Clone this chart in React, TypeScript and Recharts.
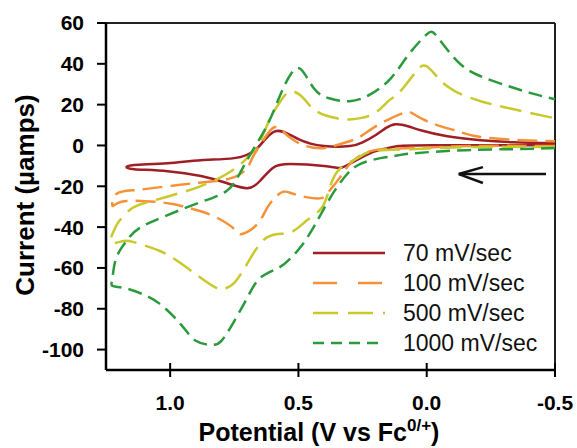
import React from "react"
import { Label, Legend, Line, LineChart, ReferenceLine, XAxis, YAxis } from "recharts"

const FONT = "'Liberation Sans', Arial, sans-serif"

// [potential (V vs Fc), current (uA)] - one closed loop per scan rate
const scan70: [number, number][] = [
    [-0.5, 0.1], [-0.02, 0.1], [0.11, -0.3], [0.17, -1.8], [0.23, -4.3], [0.3, -9.0], [0.34, -11.0],
    [0.4, -10.1], [0.53, -9.1], [0.6, -11.0], [0.65, -17.4], [0.7, -20.9], [0.78, -18.4], [0.88, -15.0],
    [1.01, -12.6], [1.14, -11.6], [1.17, -10.6],
    [1.14, -9.6], [1.01, -8.7], [0.88, -7.2], [0.75, -6.2], [0.66, -1.3], [0.59, 7.0], [0.5, 3.1],
    [0.4, -0.3], [0.3, -0.3], [0.25, 1.5], [0.2, 5.0], [0.16, 8.5], [0.12, 10.4], [0.07, 9.3],
    [0.02, 7.3], [-0.08, 4.5], [-0.21, 2.6], [-0.34, 1.6], [-0.5, 1.1],
]

const scan100: [number, number][] = [
    [-0.5, -0.3], [-0.17, -0.3], [0.06, -1.3], [0.18, -1.8], [0.25, -4.3], [0.3, -9.1], [0.34, -16.0],
    [0.38, -22.4], [0.41, -25.8], [0.47, -25.3], [0.53, -23.3], [0.57, -23.3], [0.62, -30.2], [0.66, -38.5],
    [0.72, -43.4], [0.75, -40.9], [0.83, -34.6], [0.91, -31.2], [0.99, -28.7], [1.08, -27.4], [1.19, -27.6],
    [1.225, -29.5],
    [1.21, -23.8], [1.14, -21.9], [1.07, -20.9], [0.97, -19.4], [0.9, -18.4], [0.83, -17.5], [0.75, -15.5],
    [0.7, -11.1], [0.68, -6.2], [0.64, 2.1], [0.6, 8.5], [0.57, 8.0], [0.53, 3.6], [0.47, -0.3], [0.4, -1.3],
    [0.34, 0.6], [0.27, 3.6], [0.21, 8.5], [0.14, 13.3], [0.08, 16.3], [0.05, 15.3], [-0.02, 10.9],
    [-0.12, 7.0], [-0.21, 4.1], [-0.37, 2.6], [-0.5, 2.1],
]

const scan500: [number, number][] = [
    [-0.5, -0.8], [-0.17, -0.8], [0.06, -1.8], [0.21, -2.8], [0.27, -6.2], [0.34, -11.6], [0.38, -21.4],
    [0.41, -30.7], [0.47, -37.0], [0.52, -41.9], [0.58, -43.4], [0.64, -46.8], [0.7, -58.0], [0.75, -67.3],
    [0.79, -70.3], [0.82, -69.8], [0.88, -64.9], [0.96, -57.6], [1.04, -51.7], [1.13, -47.8], [1.18, -46.8],
    [1.23, -47.5],
    [1.22, -42.0], [1.2, -37.3], [1.15, -30.9], [1.08, -27.5], [0.97, -23.6], [0.88, -19.9], [0.78, -14.0],
    [0.7, -6.2], [0.65, 2.1], [0.61, 13.3], [0.57, 21.7], [0.53, 26.5], [0.48, 23.1], [0.43, 16.8],
    [0.35, 13.3], [0.29, 12.9], [0.21, 15.3], [0.15, 21.7], [0.11, 25.6], [0.05, 34.9], [0.0, 38.8],
    [-0.08, 29.0], [-0.21, 21.7], [-0.34, 17.7], [-0.5, 13.3],
]

const scan1000: [number, number][] = [
    [-0.5, -1.3], [-0.34, -1.8], [-0.15, -2.3], [0.05, -3.8], [0.11, -4.8], [0.18, -6.2], [0.26, -9.1],
    [0.31, -14.0], [0.36, -22.4], [0.41, -33.1], [0.45, -42.0], [0.49, -49.5], [0.53, -55.2], [0.58, -60.1],
    [0.65, -65.0], [0.7, -74.7], [0.75, -86.0], [0.8, -95.7], [0.84, -97.6], [0.9, -95.7], [0.96, -87.4],
    [1.04, -77.6], [1.11, -72.7], [1.18, -69.8], [1.225, -68.8],
    [1.225, -64.9], [1.21, -55.1], [1.17, -46.8], [1.12, -40.5], [1.01, -34.1], [0.88, -27.7], [0.78, -22.3],
    [0.73, -14.0], [0.68, -2.8], [0.62, 10.4], [0.57, 25.0], [0.53, 34.9], [0.49, 37.3], [0.44, 28.0],
    [0.38, 23.1], [0.3, 21.7], [0.22, 25.0], [0.14, 32.9], [0.07, 44.6], [0.0, 54.4], [-0.04, 53.4],
    [-0.12, 41.2], [-0.21, 33.9], [-0.32, 29.0], [-0.41, 25.5], [-0.5, 22.6],
]

const rateLabels = ["70 mV/sec", "100 mV/sec", "500 mV/sec", "1000 mV/sec"]
const xTicks = [1.0, 0.5, 0.0, -0.5]
const yTicks = [-100, -80, -60, -40, -20, 0, 20, 40, 60]

const series = [
    { name: rateLabels[0], points: scan70, color: "#9e1f26", dash: undefined, legendDash: undefined },
    { name: rateLabels[1], points: scan100, color: "#f59138", dash: "20 8", legendDash: "24 21" },
    { name: rateLabels[2], points: scan500, color: "#c8c92c", dash: "22 9", legendDash: "25 10" },
    { name: rateLabels[3], points: scan1000, color: "#2a9a3c", dash: "14 7", legendDash: "11 7" },
]

// tick mark crosses the axis line, label below it
const XTick = (props: any) => {
    const { x, y, payload } = props
    return (
        <g>
            <line x1={x} x2={x} y1={y - 32} y2={y - 18} stroke="#000" strokeWidth={2} />
            <text x={x} y={y} dy="0.72em" textAnchor="middle" fontFamily={FONT} fontSize={21} fontWeight="bold" fill="#000">
                {Number(payload.value).toFixed(1)}
            </text>
        </g>
    )
}

const renderLegend = () => (
    <div style={{ fontFamily: FONT, fontSize: 23, color: "#111" }}>
        {series.map((s) => (
            <div key={s.name} style={{ display: "flex", alignItems: "center", height: 30 }}>
                <svg width={72} height={30}>
                    <line x1={0} x2={72} y1={15} y2={15} stroke={s.color} strokeWidth={2.5} strokeDasharray={s.legendDash} />
                </svg>
                <span style={{ marginLeft: 18, lineHeight: "30px", whiteSpace: "nowrap" }}>{s.name}</span>
            </div>
        ))}
    </div>
)

export default function App() {
    return (
        <div style={{ position: "absolute", left: 0, top: 0, width: 577, height: 448, background: "#fff" }}>
            <LineChart width={577} height={448} margin={{ top: 23, right: 22, bottom: 0, left: 0 }}>
                <XAxis
                    dataKey="v"
                    type="number"
                    domain={[-0.5, 1.25]}
                    reversed
                    allowDataOverflow
                    ticks={xTicks}
                    height={78}
                    tickSize={7}
                    tickMargin={18}
                    tickLine={false}
                    axisLine={{ stroke: "#000", strokeWidth: 2.5 }}
                    tick={<XTick />}
                >
                    <Label
                        content={() => (
                            <text x={319} y={441} textAnchor="middle" fontFamily={FONT} fontSize={25} fontWeight="bold" fill="#000">
                                Potential (V vs Fc
                                <tspan fontSize={17} dy={-10}>0/+</tspan>
                                <tspan dy={10}>)</tspan>
                            </text>
                        )}
                    />
                </XAxis>
                <YAxis
                    type="number"
                    domain={[-110, 60]}
                    allowDataOverflow
                    ticks={yTicks}
                    width={106}
                    tickSize={9}
                    tickMargin={13}
                    tickLine={{ stroke: "#000", strokeWidth: 2 }}
                    axisLine={{ stroke: "#000", strokeWidth: 2.5 }}
                    tick={{ fill: "#000", fontSize: 21, fontWeight: "bold", fontFamily: FONT }}
                >
                    <Label
                        content={() => (
                            <text x={34} y={195} transform="rotate(-90, 34, 195)" textAnchor="middle" fontFamily={FONT} fontSize={26} fontWeight="bold" fill="#000">
                                Current (µamps)
                            </text>
                        )}
                    />
                </YAxis>
                <ReferenceLine y={60} stroke="#222" strokeWidth={2} />
                <ReferenceLine x={-0.5} stroke="#222" strokeWidth={2} />
                {series.map((s) => (
                    <Line
                        key={s.name}
                        name={s.name}
                        data={s.points.map(([v, i]) => ({ v, i }))}
                        dataKey="i"
                        type="natural"
                        stroke={s.color}
                        strokeWidth={2.5}
                        strokeDasharray={s.dash}
                        dot={false}
                        activeDot={false}
                        isAnimationActive={false}
                    />
                ))}
                <ReferenceLine segment={[{ x: -0.465, y: -14 }, { x: -0.125, y: -14 }]} stroke="#111" strokeWidth={2.5} />
                <ReferenceLine segment={[{ x: -0.125, y: -14 }, { x: -0.219, y: -10.6 }]} stroke="#111" strokeWidth={2.5} />
                <ReferenceLine segment={[{ x: -0.125, y: -14 }, { x: -0.219, y: -18.4 }]} stroke="#111" strokeWidth={2.5} />
                <Legend
                    layout="vertical"
                    align="center"
                    verticalAlign="middle"
                    content={renderLegend}
                    wrapperStyle={{ position: "absolute", left: 313, top: 238, width: 250 }}
                />
            </LineChart>
        </div>
    )
}
